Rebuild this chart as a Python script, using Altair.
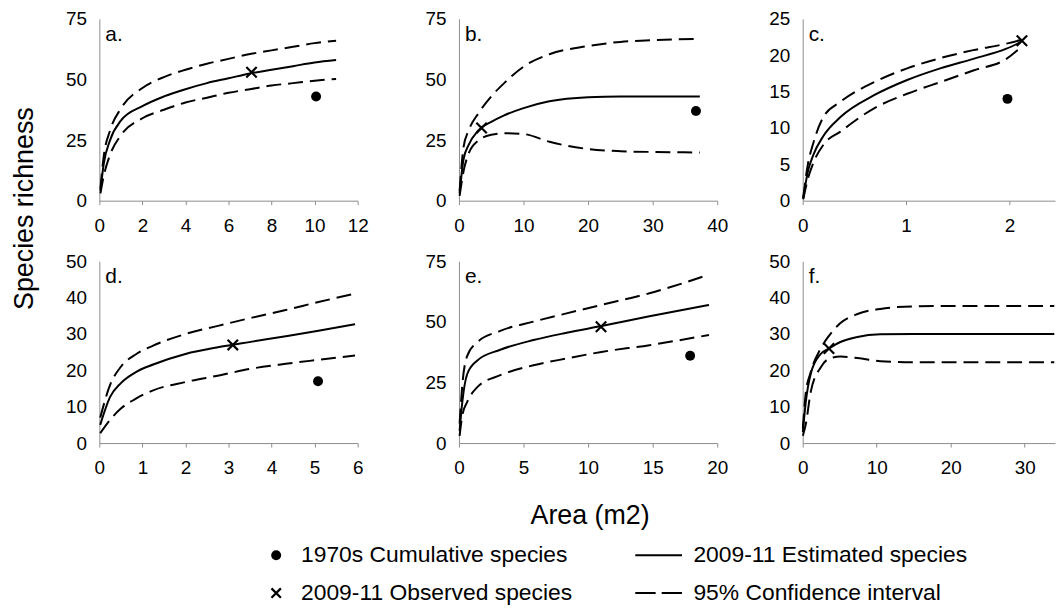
import altair as alt
import pandas as pd

FONT = "Liberation Sans"
GREY = "#8c8c8c"

# ---------------- data ----------------
# panel a
a_x = [0.05, 0.2, 0.5, 1, 2, 3, 4, 5, 6, 7, 8, 9, 10, 11]
a_est = [4, 15, 25, 33, 39, 43, 46, 48.5, 50.5, 52.5, 54, 55.5, 57, 58]
a_up = [5, 18, 29, 38, 46.5, 51, 54, 56.5, 58.5, 60.5, 62, 63.5, 65, 66]
a_lo = [3, 10, 19, 27, 34, 37.5, 40.5, 42.5, 44.5, 46, 47.5, 48.5, 49.5, 50.2]
a_obs = (7.07, 53)
a_old = (10.07, 43)

# panel b
b_x = [0.1, 0.7, 1.5, 3, 5, 7, 10, 14, 20, 25, 30, 37.3]
b_est = [3, 17, 23, 29, 32.5, 35.2, 38.2, 41, 42.7, 43, 43, 43]
b_up = [4, 22, 29, 36, 43, 48.5, 55.3, 60.4, 63.8, 65.5, 66.2, 66.8]
b_lo = [2, 12, 19.5, 24.8, 27.2, 27.8, 27.5, 24.3, 21.3, 20.4, 20.1, 19.9]
b_obs = (3.5, 30)
b_old = (36.7, 37)

# panel c
c_x = [0.005, 0.05, 0.1, 0.2, 0.365, 0.69, 1.01, 1.33, 1.65, 1.97, 2.11]
c_est = [0.3, 4, 6.2, 8.9, 11.5, 14.5, 16.6, 18.2, 19.5, 20.9, 21.8]
c_up = [0.4, 5, 7.8, 11.5, 13.6, 16.3, 18.2, 19.6, 20.7, 21.6, 22.1]
c_lo = [0.2, 3, 5.1, 7.7, 9.5, 12.7, 14.7, 16.3, 17.9, 19.5, 21.1]
c_obs = (2.12, 22)
c_old = (1.98, 14)

# panel d
d_x = [0.02, 0.25, 0.5, 0.86, 1.25, 2, 2.78, 3.55, 4.33, 5.09, 5.94]
d_est = [5, 12.7, 16.5, 19.6, 21.6, 24.5, 26.4, 27.9, 29.4, 30.9, 32.7]
d_up = [7, 16, 21, 24.5, 26.8, 30, 32.3, 34.5, 36.6, 38.8, 41.1]
d_lo = [2.7, 6.4, 9.5, 12.3, 14.5, 16.8, 18.6, 20.5, 21.8, 22.9, 24.1]
d_obs = (3.1, 27)
d_old = (5.08, 17)

# panel e
e_x = [0.05, 0.26, 0.64, 1.4, 3.2, 5.77, 8.33, 11.03, 14.75, 19.36]
e_est = [5, 17, 28.5, 34, 38.5, 42.5, 45.5, 48.3, 52.3, 57]
e_up = [8, 24, 36, 41.5, 46.3, 50.1, 53.5, 57, 61.8, 69.5]
e_lo = [3, 11.4, 17, 23, 28, 32.1, 34.9, 37.6, 40.4, 44.6]
e_obs = (11.0, 48)
e_old = (17.9, 36)

# panel f
f_x = [0.02, 0.4, 1.08, 2.43, 3.55, 5.1, 7.4, 10.5, 15, 20, 25, 30, 34]
f_est = [3, 11, 19, 24.5, 26, 27.8, 29.2, 29.9, 30, 30, 30, 30, 30]
f_up = [4, 13.5, 19.5, 26, 29.5, 33, 35.5, 36.9, 37.6, 37.7, 37.7, 37.7, 37.7]
f_lo = [2, 5, 14, 20.8, 23.2, 23.8, 23.4, 22.5, 22.2, 22.2, 22.2, 22.2, 22.2]
f_obs = (3.55, 26)
f_old = None

panel_names = ["a.", "b.", "c.", "d.", "e.", "f."]
x_domains = [[0, 12], [0, 40], [0, 2.44], [0, 6], [0, 20], [0, 34.1]]
x_ticks = [[0, 2, 4, 6, 8, 10, 12], [0, 10, 20, 30, 40], [0, 1, 2],
           [0, 1, 2, 3, 4, 5, 6], [0, 5, 10, 15, 20], [0, 10, 20, 30]]
y_domains = [[0, 75], [0, 75], [0, 25], [0, 50], [0, 75], [0, 50]]
y_ticks = [[0, 25, 50, 75], [0, 25, 50, 75], [0, 5, 10, 15, 20, 25],
           [0, 10, 20, 30, 40, 50], [0, 25, 50, 75], [0, 10, 20, 30, 40, 50]]

legend_labels = ["1970s Cumulative species", "2009-11 Observed species",
                 "2009-11 Estimated species", "95% Confidence interval"]
legend_kind = ["circle", "cross", "solid", "dashed"]
legend_col = [0, 0, 1, 1]
legend_row = [0, 1, 0, 1]

y_title = "Species richness"
x_title = "Area (m2)"

XPATH = "M-1,-1L1,1M-1,1L1,-1"
DASH = [15, 7]

PW = [260, 260, 254, 260, 260, 254]
PH = 183
ROWGAP = 61
TOP = 17
BOT_TOP = TOP + 2 * PH + 2 * ROWGAP      # page y where the bottom cell starts
BOT_H = 608 - BOT_TOP


def panel(i, xs, est, up, lo, obs, old):
    xsc = alt.Scale(domain=x_domains[i], nice=False, zero=False)
    ysc = alt.Scale(domain=y_domains[i], nice=False)
    xax = alt.Axis(values=x_ticks[i], grid=False, domainColor=GREY, tickColor=GREY,
                   tickSize=4, labelFontSize=19, labelFont=FONT, labelColor="black",
                   labelPadding=12, title=None, labelOverlap=False, labelFlush=False)
    yax = alt.Axis(values=y_ticks[i], grid=False, domainColor=GREY, ticks=False,
                   tickSize=0, labelFontSize=19, labelFont=FONT, labelColor="black",
                   labelPadding=13, title=None, labelOverlap=False)
    X = alt.X("x:Q", scale=xsc, axis=xax)
    Y = alt.Y("y:Q", scale=ysc, axis=yax)
    est_df = pd.DataFrame({"x": xs, "y": est})
    band_df = pd.concat([
        pd.DataFrame({"x": xs, "y": up, "b": "upper"}),
        pd.DataFrame({"x": xs, "y": lo, "b": "lower"}),
    ])
    layers = [
        alt.Chart(band_df).mark_line(color="black", strokeWidth=2, strokeDash=DASH,
                                     interpolate="monotone").encode(x=X, y=Y, detail="b:N"),
        alt.Chart(est_df).mark_line(color="black", strokeWidth=2,
                                    interpolate="monotone").encode(x=X, y=Y),
        alt.Chart(pd.DataFrame({"x": [obs[0]], "y": [obs[1]]})).mark_point(
            shape=XPATH, filled=False, color="black", opacity=1, strokeWidth=2.2, size=110
        ).encode(x=X, y=Y),
    ]
    if old is not None:
        layers.append(
            alt.Chart(pd.DataFrame({"x": [old[0]], "y": [old[1]]})).mark_point(
                shape="circle", filled=True, color="black", opacity=1, size=100
            ).encode(x=X, y=Y)
        )
    layers.append(
        alt.Chart(pd.DataFrame({"t": [panel_names[i]]})).mark_text(
            align="left", baseline="alphabetic", fontSize=21, font=FONT, color="black"
        ).encode(text="t:N", x=alt.value(6), y=alt.value(22))
    )
    return alt.layer(*layers).properties(width=PW[i], height=PH)


def blank(w, h):
    return alt.Chart(pd.DataFrame({"v": [0]})).mark_point(opacity=0).encode(
        x=alt.value(0), y=alt.value(0)
    ).properties(width=w, height=h)


pa = panel(0, a_x, a_est, a_up, a_lo, a_obs, a_old)
pb = panel(1, b_x, b_est, b_up, b_lo, b_obs, b_old)
pc = panel(2, c_x, c_est, c_up, c_lo, c_obs, c_old)
pd_ = panel(3, d_x, d_est, d_up, d_lo, d_obs, d_old)
pe = panel(4, e_x, e_est, e_up, e_lo, e_obs, e_old)
pf = panel(5, f_x, f_est, f_up, f_lo, f_obs, f_old)

# y title lives in the first cell, drawn across both rows
ytitle = alt.Chart(pd.DataFrame({"t": [y_title]})).mark_text(
    angle=270, align="center", baseline="middle", fontSize=27, font=FONT, color="black"
).encode(text="t:N", x=alt.value(22), y=alt.value(208 - TOP)).properties(width=97, height=PH)

# bottom cell: x title + legend (positions relative to the top of the bottom cell)
xtitle = alt.Chart(pd.DataFrame({"t": [x_title]})).mark_text(
    align="center", baseline="middle", fontSize=27, font=FONT, color="black"
).encode(text="t:N", x=alt.value(591), y=alt.value(517 - BOT_TOP))

leg_df = pd.DataFrame({"label": legend_labels, "kind": legend_kind,
                       "col": legend_col, "row": legend_row})
LX = alt.X("col:Q", scale=alt.Scale(domain=[0, 1], range=[275, 660]), axis=None)
LY = alt.Y("row:Q", scale=alt.Scale(domain=[0, 1], range=[557 - BOT_TOP, 595 - BOT_TOP]),
           axis=None)
lbase = alt.Chart(leg_df)
leg_layers = [
    lbase.transform_filter("datum.kind == 'circle'").mark_point(
        shape="circle", filled=True, color="black", opacity=1, size=100).encode(x=LX, y=LY),
    lbase.transform_filter("datum.kind == 'cross'").mark_point(
        shape=XPATH, filled=False, color="black", opacity=1, strokeWidth=2.2, size=90).encode(x=LX, y=LY),
    lbase.transform_filter("datum.kind == 'solid'").mark_point(
        shape="M-1,0L1,0", filled=False, color="black", opacity=1, strokeWidth=2,
        size=2209).encode(x=LX, y=LY),
    lbase.transform_filter("datum.kind == 'dashed'").mark_point(
        shape="M-1,0L-0.13,0M0.13,0L1,0", filled=False, color="black", opacity=1,
        strokeWidth=2, size=2209).encode(x=LX, y=LY),
    lbase.transform_filter("datum.col == 0").mark_text(
        align="left", baseline="middle", dx=25, fontSize=23, font=FONT,
        color="black").encode(x=LX, y=LY, text="label:N"),
    lbase.transform_filter("datum.col == 1").mark_text(
        align="left", baseline="middle", dx=35, fontSize=23, font=FONT,
        color="black").encode(x=LX, y=LY, text="label:N"),
]
bottom = alt.layer(xtitle, *leg_layers).properties(width=97, height=BOT_H - ROWGAP)

chart = alt.concat(
    ytitle, pa, blank(102, PH), pb, blank(86, PH), pc,
    blank(97, PH), pd_, blank(102, PH), pe, blank(86, PH), pf,
    bottom,
    columns=6, spacing={"row": ROWGAP, "column": 0}, bounds="flush"
).properties(
    padding={"left": 0, "top": 8, "right": 0, "bottom": 0}
).configure(font=FONT, background="white").configure_view(stroke=None, strokeWidth=0)

chart.save("out.html", embed_options={"renderer": "svg", "actions": False})
